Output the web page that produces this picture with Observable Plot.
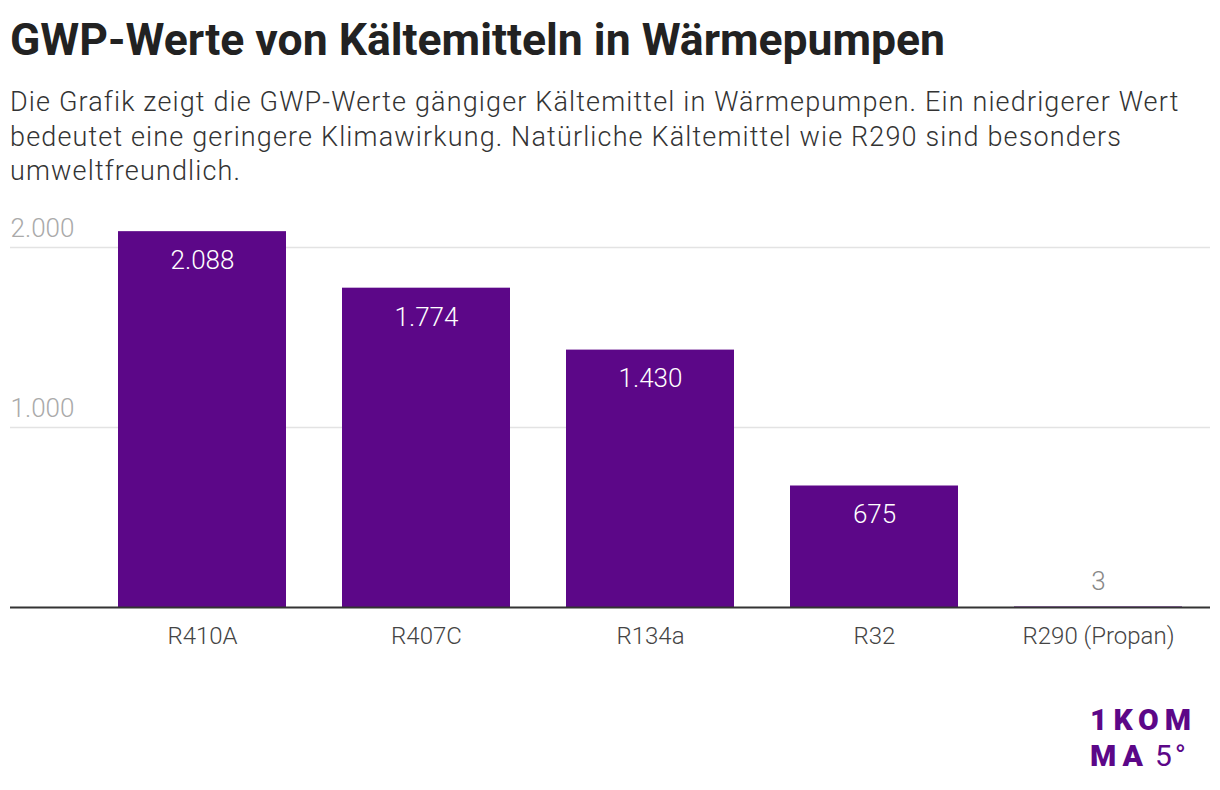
<!DOCTYPE html>
<html><head><meta charset="utf-8">
<script src="https://cdn.jsdelivr.net/npm/d3@7"></script>
<script src="https://cdn.jsdelivr.net/npm/@observablehq/plot@0.6"></script>
<style>
body{margin:0;background:#fff;font-family:Roboto,"Noto Sans",sans-serif;width:1220px;height:790px;position:relative;overflow:hidden}
h1{position:absolute;left:10px;top:12px;margin:0;font-size:44.5px;line-height:56px;font-weight:700;color:#222;letter-spacing:0}
#sub{position:absolute;left:10px;top:85px;width:1210px;margin:0;font-size:27px;font-weight:300;color:#333;line-height:34.5px;letter-spacing:1.15px;white-space:nowrap}
#chart{position:absolute;left:0;top:200px}
.logo{position:absolute;color:#5c0788;font-size:30px;font-weight:900;line-height:30px;letter-spacing:6px;white-space:nowrap}
#logo1{left:1090px;top:705px}
#logo2{left:1090px;top:740.5px}
#logo3{left:1155px;top:740.5px;font-weight:400;letter-spacing:3px}
</style></head><body>
<h1>GWP-Werte von Kältemitteln in Wärmepumpen</h1>
<p id="sub">Die Grafik zeigt die GWP-Werte gängiger Kältemittel in Wärmepumpen. Ein niedrigerer Wert<br>bedeutet eine geringere Klimawirkung. Natürliche Kältemittel wie R290 sind besonders<br>umweltfreundlich.</p>
<div id="chart"></div>
<div class="logo" id="logo1">1KOM</div>
<div class="logo" id="logo2">MA</div>
<div class="logo" id="logo3">5°</div>
<script>
const categories = ["R410A", "R407C", "R134a", "R32", "R290 (Propan)"];
const values = [2088, 1774, 1430, 675, 3];
const yTicks = [1000, 2000];

const de = d3.formatLocale({decimal: ",", thousands: ".", grouping: [3], currency: ["", "€"]});
const fmt = de.format(",");
const data = categories.map((c, i) => ({cat: c, value: values[i]}));
const color = "#5c0788";

const chart = Plot.plot({
  width: 1220,
  height: 470,
  marginLeft: 10,
  marginRight: 10,
  marginTop: 47,
  marginBottom: 63,
  style: {fontFamily: "Roboto, sans-serif", background: "transparent"},
  x: {domain: categories, range: [89, 1210], paddingInner: 0.25, paddingOuter: 0.125, label: null},
  y: {domain: [0, 2000], label: null},
  marks: [
    Plot.ruleY(yTicks, {stroke: "#e3e3e3", strokeWidth: 1.5}),
    Plot.axisY(yTicks, {anchor: "left", tickSize: 0, tickPadding: 0, textAnchor: "start", dy: -19, tickFormat: fmt, fontSize: 26, fontWeight: 300, fill: "#aaa", label: null}),
    Plot.barY(data, {x: "cat", y: "value", fill: color}),
    Plot.ruleY([0], {stroke: "#333", strokeWidth: 2}),
    Plot.text(data.filter(d => d.value > 100), {x: "cat", y: "value", text: d => fmt(d.value), dy: 29, fill: "white", fontSize: 26, fontWeight: 300}),
    Plot.text(data.filter(d => d.value <= 100), {x: "cat", y: "value", text: d => fmt(d.value), dy: -25, fill: "#888", fontSize: 26, fontWeight: 300}),
    Plot.axisX({tickSize: 0, tickPadding: 19, fontSize: 24, fontWeight: 300, fill: "#444", label: null})
  ]
});
document.getElementById("chart").appendChild(chart);
</script>
</body></html>
